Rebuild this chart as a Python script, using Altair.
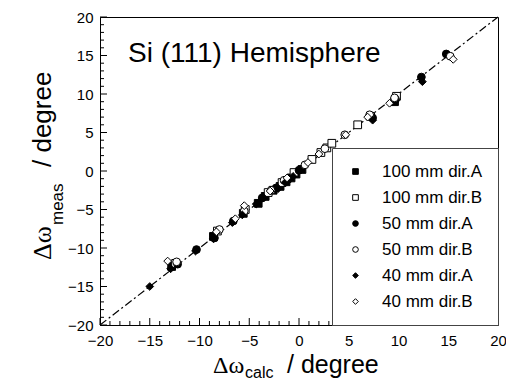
import altair as alt
import pandas as pd

# ---- data ----
series_names = ["100 mm dir.A", "100 mm dir.B", "50 mm dir.A", "50 mm dir.B", "40 mm dir.A", "40 mm dir.B"]

s1_x = [-12.8, -8.6, -5.6, -4.1, -3.4, -2.6, -1.9, -1.3, -0.8, -0.3, 0.3, 9.6]
s1_y = [-12.4, -8.5, -5.5, -4.2, -3.3, -2.5, -2.0, -1.4, -0.9, -0.4, 0.2, 9.0]

s2_x = [-12.4, -8.2, -5.4, -3.1, -1.7, -0.5, 1.3, 2.2, 2.8, 3.3, 5.9, 7.2, 9.8]
s2_y = [-12.0, -7.8, -5.0, -2.8, -1.5, -0.2, 1.5, 2.4, 3.0, 3.6, 6.0, 7.1, 9.7]

s3_x = [-12.2, -10.3, -8.5, -6.6, -3.7, -2.3, -1.1, 0.0, 7.4, 9.7, 12.3, 14.8]
s3_y = [-12.1, -10.2, -8.7, -6.5, -3.5, -2.2, -1.1, 0.1, 6.9, 9.3, 12.2, 15.2]

s4_x = [-12.3, -8.0, -5.5, -2.8, -1.5, 0.6, 2.6, 4.6, 7.1, 9.6, 15.2]
s4_y = [-11.8, -7.6, -5.2, -2.5, -1.2, 0.8, 2.9, 4.7, 7.3, 9.5, 14.9]

s5_x = [-15.0, -12.9, -10.4, -8.6, -6.7, -5.7, -4.3, -3.6, -2.1, -1.4, -0.6, 7.4, 12.4]
s5_y = [-15.0, -12.7, -10.4, -8.8, -6.7, -5.7, -4.3, -3.5, -2.3, -1.5, -0.7, 6.6, 11.6]

s6_x = [-13.2, -8.3, -6.4, -5.5, -2.9, -1.2, 0.9, 2.0, 4.7, 6.9, 9.1, 15.5]
s6_y = [-11.7, -7.9, -6.2, -4.5, -2.6, -0.9, 1.1, 2.2, 4.7, 7.0, 8.8, 14.5]

diag_x = [-20, 20]
diag_y = [-20, 20]

major_ticks = [-20, -15, -10, -5, 0, 5, 10, 15, 20]
minor_ticks = [v for v in range(-20, 21) if v % 5 != 0]

# ---- tables ----
rows = []
for name, xs, ys in zip(series_names,
                        [s1_x, s2_x, s3_x, s4_x, s5_x, s6_x],
                        [s1_y, s2_y, s3_y, s4_y, s5_y, s6_y]):
    for a, b in zip(xs, ys):
        rows.append({"series": name, "calc": a, "meas": b})
pts = pd.DataFrame(rows)
diag = pd.DataFrame({"calc": diag_x, "meas": diag_y})
maj = pd.DataFrame({"v": major_ticks})
mnr = pd.DataFrame({"v": minor_ticks})
one = pd.DataFrame({"a": [0]})

W, H = 398, 308
dom = [-20, 20]
FONT = "Liberation Sans"

xscale = alt.Scale(domain=dom, nice=False, zero=False)
yscale = alt.Scale(domain=dom, nice=False, zero=False)

xaxis = alt.Axis(values=major_ticks, format="d", grid=False, ticks=False, tickSize=0,
                 labelFont=FONT, labelFontSize=15, labelColor="black", labelPadding=8,
                 domainColor="black", title=None, labelFlush=False, labelOverlap=False)
yaxis = alt.Axis(values=major_ticks, format="d", grid=False, ticks=False, tickSize=0,
                 labelFont=FONT, labelFontSize=15, labelColor="black", labelPadding=7,
                 domainColor="black", title=None, labelFlush=False, labelOverlap=False)

line = alt.Chart(diag).mark_line(color="black", strokeWidth=1.2, strokeDash=[8, 3, 2, 3]).encode(
    x=alt.X("calc:Q", scale=xscale, axis=xaxis),
    y=alt.Y("meas:Q", scale=yscale, axis=yaxis),
)

# inward ticks (positions from the scales)
def xticks(df, L):
    return alt.Chart(df).mark_rule(color="black", strokeWidth=1).encode(
        x=alt.X("v:Q", scale=xscale, axis=xaxis), y=alt.value(H), y2=alt.value(H - L))

def yticks(df, L):
    return alt.Chart(df).mark_rule(color="black", strokeWidth=1).encode(
        y=alt.Y("v:Q", scale=yscale, axis=yaxis), x=alt.value(0), x2=alt.value(L))

shapes = ["square", "square", "circle", "circle", "diamond", "diamond"]
fills = ["black", "white", "black", "white", "black", "white"]
strokes = ["black"] * 6

legend = alt.Legend(title=None, orient="bottom-right", offset=0, padding=15,
                    strokeColor="#444", fillColor="white",
                    labelFont=FONT, labelFontSize=17, labelColor="black",
                    rowPadding=8, labelOffset=18, symbolOffset=0, symbolSize=32,
                    symbolStrokeColor="black", symbolStrokeWidth=1)

points = alt.Chart(pts).mark_point(filled=True, strokeWidth=1, opacity=1, size=60).encode(
    x=alt.X("calc:Q", scale=xscale, axis=xaxis),
    y=alt.Y("meas:Q", scale=yscale, axis=yaxis),
    shape=alt.Shape("series:N", scale=alt.Scale(domain=series_names, range=shapes), legend=legend),
    fill=alt.Fill("series:N", scale=alt.Scale(domain=series_names, range=fills), legend=legend),
    stroke=alt.Stroke("series:N", scale=alt.Scale(domain=series_names, range=strokes), legend=legend),
)

title_txt = alt.Chart(one).mark_text(text="Si (111) Hemisphere", font=FONT, fontSize=28, align="left",
                                     baseline="alphabetic", color="black").encode(
    x=alt.value(28), y=alt.value(45))

# x axis title: Δω_calc / degree
xt1 = alt.Chart(one).mark_text(text="Δω", font="Liberation Serif", fontSize=24, align="left",
                               baseline="alphabetic", color="black").encode(x=alt.value(113), y=alt.value(356))
xt2 = alt.Chart(one).mark_text(text="calc", font=FONT, fontSize=16, align="left",
                               baseline="alphabetic", color="black").encode(x=alt.value(145), y=alt.value(361))
xt3 = alt.Chart(one).mark_text(text="/ degree", font=FONT, fontSize=25, align="left",
                               baseline="alphabetic", color="black").encode(x=alt.value(187), y=alt.value(356))

# y axis title: Δω_meas / degree (rotated)
yt1 = alt.Chart(one).mark_text(text="Δω", font="Liberation Serif", fontSize=26, align="left", angle=270,
                               baseline="alphabetic", color="black").encode(x=alt.value(-49), y=alt.value(243))
yt2 = alt.Chart(one).mark_text(text="meas", font=FONT, fontSize=17, align="left", angle=270,
                               baseline="alphabetic", color="black").encode(x=alt.value(-37), y=alt.value(208))
yt3 = alt.Chart(one).mark_text(text="/ degree", font=FONT, fontSize=26, align="left", angle=270,
                               baseline="alphabetic", color="black").encode(x=alt.value(-49), y=alt.value(150))

chart = alt.layer(line, xticks(mnr, 4), xticks(maj, 7), yticks(mnr, 4), yticks(maj, 7), points,
                  title_txt, xt1, xt2, xt3, yt1, yt2, yt3).properties(
    width=W, height=H,
    autosize=alt.AutoSizeParams(type="none"),
    padding={"left": 92, "top": 9, "right": 8, "bottom": 55},
    background="white",
).configure_view(stroke="black", strokeWidth=1)

chart.save("out.html", embed_options={"renderer": "svg", "actions": False})
